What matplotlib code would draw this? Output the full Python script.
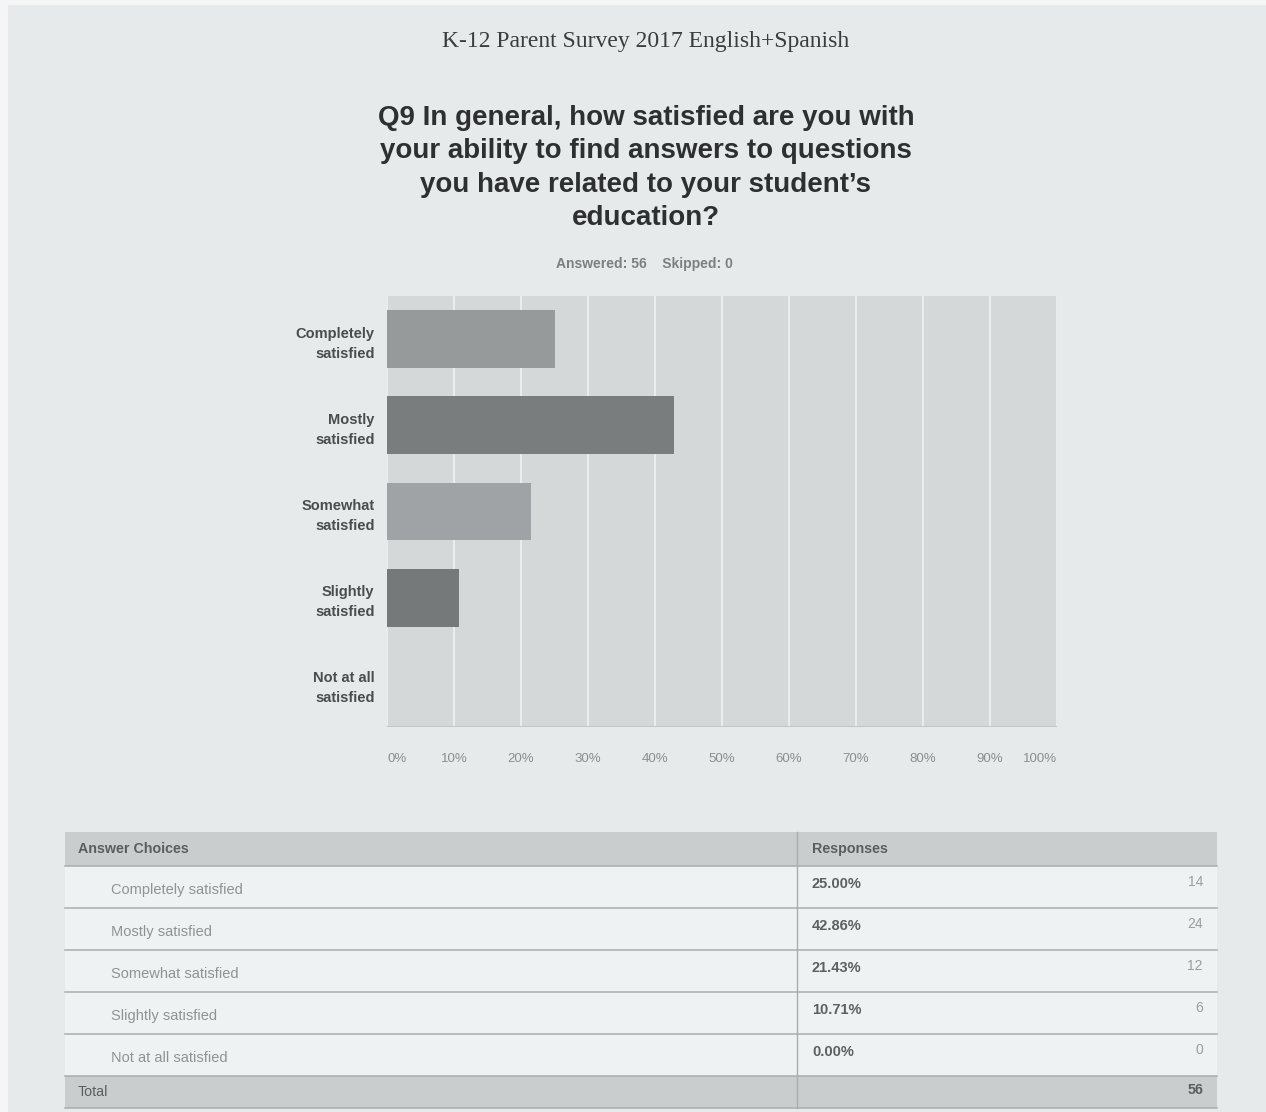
import matplotlib
matplotlib.use("Agg")
import matplotlib.pyplot as plt
from matplotlib.patches import Rectangle

plt.rcParams["font.family"] = ["Liberation Sans", "DejaVu Sans"]

# Survey data
survey_name = "K-12 Parent Survey 2017 English+Spanish"
question = ("Q9 In general, how satisfied are you with\n"
            "your ability to find answers to questions\n"
            "you have related to your student\u2019s\n"
            "education?")
choices = ["Completely satisfied", "Mostly satisfied", "Somewhat satisfied",
           "Slightly satisfied", "Not at all satisfied"]
axis_labels = ["Completely\nsatisfied", "Mostly\nsatisfied", "Somewhat\nsatisfied",
               "Slightly\nsatisfied", "Not at all\nsatisfied"]
counts = [14, 24, 12, 6, 0]
skipped = 0
tick_values = [0, 10, 20, 30, 40, 50, 60, 70, 80, 90, 100]

answered = sum(counts)
percents = [c / answered * 100 for c in counts]

bar_colors = ["#979a9a", "#7a7d7e", "#a0a3a5", "#76797a", "#8a8d8e"]
page_color = "#e6eaea"
plot_bg = "#d4d8d8"

W, H = 1266, 1112
fig = plt.figure(figsize=(W / 100, H / 100), dpi=100)
fig.patch.set_facecolor("#f4f6f6")

# page layer in pixel units (y grows downward)
page = fig.add_axes([0, 0, 1, 1])
page.set_xlim(0, W)
page.set_ylim(H, 0)
page.axis("off")
page.add_patch(Rectangle((8, 5), W - 8, H - 5, facecolor=page_color, edgecolor="none"))

page.text(646, 42, survey_name, family=["Liberation Serif", "DejaVu Serif"],
          fontsize=17, color="#3a3d3d", ha="center", va="center")
page.text(646, 168, question, fontsize=20, fontweight="bold", color="#2e3030",
          ha="center", va="center", linespacing=1.38)
page.text(644, 264, f"Answered: {answered}    Skipped: {skipped}", fontsize=10,
          color="#7c8080", ha="center", va="center", fontweight="bold")

# bar chart
x0, x1, y0, y1 = 387, 1057, 296, 727
ax = fig.add_axes([x0 / W, 1 - y1 / H, (x1 - x0) / W, (y1 - y0) / H])
ax.set_facecolor(plot_bg)
ypos = list(range(len(choices)))
ax.barh(ypos, percents, height=0.67, color=bar_colors, zorder=3)
ax.set_xlim(0, 100)
ax.set_ylim(len(choices) - 0.5, -0.5)
ax.set_xticks(tick_values)
xlabels = ax.set_xticklabels([f"{v}%" for v in tick_values], fontsize=9.5,
                             color="#8a8e8e")
xlabels[-1].set_horizontalalignment("right")
xlabels[0].set_horizontalalignment("left")
ax.set_yticks(ypos)
ax.set_yticklabels(axis_labels, fontsize=10.5, fontweight="bold", color="#4a4d4d",
                   linespacing=1.55)
ax.tick_params(axis="x", length=0, pad=19)
ax.tick_params(axis="y", length=0, pad=9)
ax.grid(axis="x", color="#eef0f0", linewidth=1.3, zorder=1)
for s in ax.spines.values():
    s.set_visible(False)
ax.axhline(len(choices) - 0.5, color="#c2c6c6", linewidth=1.5, zorder=4)

# response table
tx0, tx1, tdiv = 65, 1217, 797
head_top, head_bot = 832, 866
row_h = 42
total_top = head_bot + row_h * len(choices)
total_bot = total_top + 32
header_color = "#c9cdcd"
line_color = "#a9adad"

page.add_patch(Rectangle((tx0, head_top), tx1 - tx0, head_bot - head_top,
                         facecolor=header_color, edgecolor="none"))
page.add_patch(Rectangle((tx0, head_bot), tx1 - tx0, total_top - head_bot,
                         facecolor="#eff2f2", edgecolor="none"))
page.add_patch(Rectangle((tx0, total_top), tx1 - tx0, total_bot - total_top,
                         facecolor=header_color, edgecolor="none"))
page.plot([tdiv, tdiv], [head_top, total_bot], color=line_color, lw=1)
for i in range(len(choices) + 1):
    yy = head_bot + i * row_h
    page.plot([tx0, tx1], [yy, yy], color=line_color, lw=1.1)
page.plot([tx0, tx1], [total_bot, total_bot], color=line_color, lw=1.1)

page.text(78, (head_top + head_bot) / 2, "Answer Choices", fontsize=10.3,
          color="#5a5e5e", va="center", fontweight="bold")
page.text(812, (head_top + head_bot) / 2, "Responses", fontsize=10.3,
          color="#5a5e5e", va="center", fontweight="bold")
for i, (name, pct, cnt) in enumerate(zip(choices, percents, counts)):
    top = head_bot + i * row_h
    page.text(111, top + 24, name, fontsize=10.5, color="#8f9393", va="center")
    page.text(812, top + 18, f"{pct:.2f}%", fontsize=10.5, color="#5c6060",
              va="center", fontweight="bold")
    page.text(1203, top + 16, f"{cnt}", fontsize=10, color="#9a9e9e",
              va="center", ha="right")
page.text(78, (total_top + total_bot) / 2, "Total", fontsize=10.3, color="#5a5e5e",
          va="center")
page.text(1203, (total_top + total_bot) / 2 - 2, f"{answered}", fontsize=10.3,
          color="#5a5e5e", va="center", ha="right", fontweight="bold")

fig.savefig("out.png", dpi=100, facecolor=fig.get_facecolor())
